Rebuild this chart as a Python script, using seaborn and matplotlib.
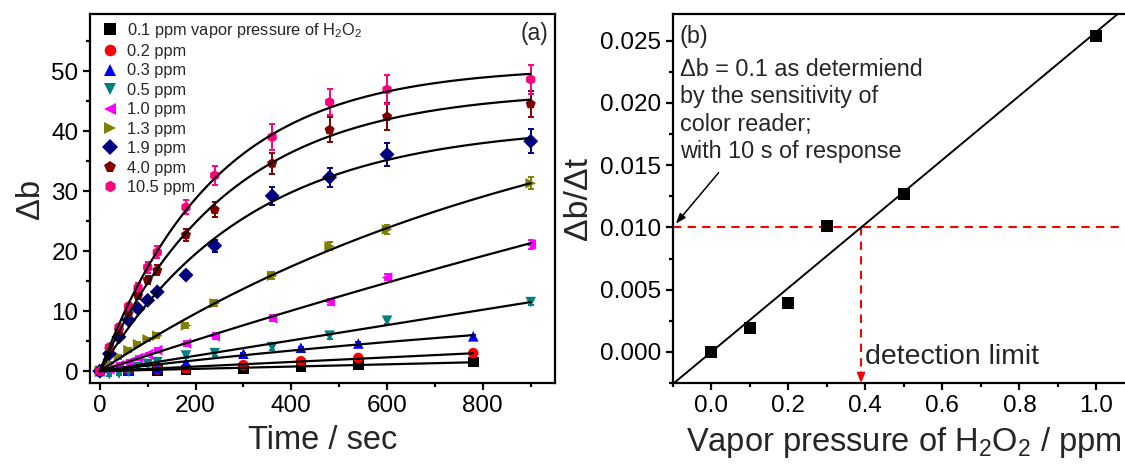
import numpy as np
import pandas as pd
import matplotlib
matplotlib.use("Agg")
import matplotlib.pyplot as plt
from matplotlib.ticker import MultipleLocator, FormatStrFormatter
import seaborn as sns

# ---------------- data: panel (a) ----------------
series = ["0.1 ppm vapor pressure of H$_2$O$_2$", "0.2 ppm", "0.3 ppm", "0.5 ppm",
          "1.0 ppm", "1.3 ppm", "1.9 ppm", "4.0 ppm", "10.5 ppm"]
colors = ["#000000", "#FF0000", "#0000FF", "#008080", "#FF00FF",
          "#808000", "#000080", "#800000", "#FF0080"]
markers = ["s", "o", "^", "v", "<", ">", "D", "p", "h"]

t_low = [0, 60, 120, 180, 300, 420, 540, 780]
t_fast = [0, 20, 40, 60, 80, 100, 120, 180, 240, 360, 480, 600, 900]

b01 = [0, 0.0, 0.1, 0.2, 0.45, 0.75, 1.1, 1.55]
b02 = [0, 0.1, 0.3, 0.45, 1.0, 1.65, 2.2, 3.0]
b03 = [0, 0.1, 0.5, 1.4, 2.9, 3.9, 4.6, 5.8]
b05 = [0, -0.5, -0.4, -0.1, 0.7, 1.2, 1.5, 2.6, 3.0, 4.0, 5.9, 8.4, 11.5]
b10 = [0, 0.3, 1.0, 1.5, 2.2, 2.8, 3.5, 4.6, 5.8, 8.8, 11.6, 15.6, 21.1]
b13 = [0, 1.3, 2.4, 3.5, 4.5, 5.3, 5.9, 7.6, 11.3, 15.9, 20.8, 23.6, 31.3]
b19 = [0, 2.9, 5.7, 8.5, 10.4, 11.8, 13.2, 16.0, 20.9, 29.2, 32.3, 36.1, 38.3]
b40 = [0, 3.7, 6.8, 9.6, 12.6, 15.2, 16.8, 22.7, 26.9, 34.6, 40.2, 42.4, 44.5]
b105 = [0, 4.0, 7.3, 10.8, 13.9, 17.3, 19.8, 27.3, 32.6, 39.0, 44.8, 46.9, 48.6]

e01 = [0, 0.1, 0.1, 0.1, 0.1, 0.1, 0.1, 0.15]
e02 = [0, 0.1, 0.1, 0.1, 0.15, 0.15, 0.2, 0.2]
e03 = [0, 0.1, 0.1, 0.15, 0.2, 0.2, 0.25, 0.3]
e05 = [0, 0.3, 0.3, 0.3, 0.3, 0.3, 0.3, 0.4, 0.4, 0.4, 0.5, 0.5, 0.5]
e10 = [0, 0.3, 0.3, 0.3, 0.3, 0.3, 0.3, 0.4, 0.5, 0.5, 0.5, 0.5, 0.8]
e13 = [0, 0.3, 0.3, 0.3, 0.3, 0.3, 0.4, 0.4, 0.5, 0.6, 0.7, 0.8, 1.0]
e19 = [0, 0.3, 0.3, 0.4, 0.4, 0.5, 0.5, 0.6, 1.0, 1.5, 1.6, 1.9, 2.0]
e40 = [0, 0.3, 0.4, 0.5, 0.6, 0.7, 0.8, 1.0, 1.3, 1.8, 2.1, 2.2, 2.2]
e105 = [0, 0.4, 0.5, 0.6, 0.8, 0.9, 1.0, 1.2, 1.6, 2.1, 2.2, 2.4, 2.4]

# ---------------- data: panel (b) ----------------
vp = [0.0, 0.1, 0.2, 0.3, 0.5, 1.0]
rate = [0.0, 0.0019, 0.0039, 0.0101, 0.0127, 0.0254]
threshold = 0.010  # delta b = 0.1 in 10 s

# ---------------- style ----------------
sns.set_theme(style="ticks")
plt.rcParams["font.family"] = ["Liberation Sans", "DejaVu Sans"]
plt.rcParams["mathtext.fontset"] = "custom"
plt.rcParams["mathtext.rm"] = "Liberation Sans"
plt.rcParams["mathtext.it"] = "Liberation Sans:italic"
plt.rcParams["mathtext.bf"] = "Liberation Sans:bold"
plt.rcParams["axes.linewidth"] = 1.6
plt.rcParams["axes.edgecolor"] = "black"
for a in ("x", "y"):
    plt.rcParams[f"{a}tick.direction"] = "out"
    plt.rcParams[f"{a}tick.major.size"] = 5
    plt.rcParams[f"{a}tick.major.width"] = 1.6
    plt.rcParams[f"{a}tick.minor.size"] = 3
    plt.rcParams[f"{a}tick.minor.width"] = 1.6
    plt.rcParams[f"{a}tick.color"] = "black"
    plt.rcParams[f"{a}tick.labelcolor"] = "black"

TICK_FS = 17.5
LABEL_FS = 23.5

fig = plt.figure(figsize=(11.25, 4.73), dpi=100)
ax1 = fig.add_axes([0.0802, 0.190, 0.4128, 0.7804])
ax2 = fig.add_axes([0.598, 0.190, 0.4109, 0.7804])

# ---------------- panel (a) ----------------
ts = [t_low, t_low, t_low] + [t_fast] * 6
bs = [b01, b02, b03, b05, b10, b13, b19, b40, b105]
es = [e01, e02, e03, e05, e10, e13, e19, e40, e105]

rows = []
for name, t, b in zip(series, ts, bs):
    for ti, bi in zip(t, b):
        rows.append({"series": name, "t": ti, "b": bi})
df = pd.DataFrame(rows)

pal = dict(zip(series, colors))
mk = dict(zip(series, markers))

for name, t, b, e in zip(series, ts, bs, es):
    ax1.errorbar(t, b, yerr=e, fmt="none", ecolor=pal[name], elinewidth=1.4,
                 capsize=2.5, capthick=1.4, zorder=2)

sns.scatterplot(data=df, x="t", y="b", hue="series", style="series",
                hue_order=series, style_order=series, palette=pal, markers=mk,
                s=58, linewidth=0, ax=ax1, zorder=3, legend=True)

# exponential-rise fits  b = A (1 - exp(-t/tau))
def fit_curve(t, b):
    t = np.asarray(t, float)
    b = np.asarray(b, float)
    best = None
    for tau in np.logspace(1.5, 6, 600):
        g = 1 - np.exp(-t / tau)
        A = (g @ b) / (g @ g)
        r = np.sum((A * g - b) ** 2)
        if best is None or r < best[0]:
            best = (r, A, tau)
    _, A, tau = best
    tt = np.linspace(0, t.max(), 200)
    return tt, A * (1 - np.exp(-tt / tau))

for t, b in zip(ts, bs):
    tt, yy = fit_curve(t, b)
    sns.lineplot(x=tt, y=yy, color="black", lw=1.6, ax=ax1, zorder=4,
                 sort=False, estimator=None)

ax1.set_xlim(-20, 950)
ax1.set_ylim(-2, 59.5)
ax1.xaxis.set_major_locator(MultipleLocator(200))
ax1.xaxis.set_minor_locator(MultipleLocator(100))
ax1.yaxis.set_major_locator(MultipleLocator(10))
ax1.yaxis.set_minor_locator(MultipleLocator(5))
ax1.tick_params(labelsize=TICK_FS)
ax1.set_xlabel("Time / sec", fontsize=LABEL_FS, labelpad=6)
ax1.set_ylabel("\u0394b", fontsize=LABEL_FS, labelpad=4)
for s in ax1.spines.values():
    s.set_visible(True)
ax1.text(0.986, 0.946, "(a)", transform=ax1.transAxes, ha="right", va="center",
         fontsize=16.5)

handles, labels = ax1.get_legend_handles_labels()
ax1.legend(handles, labels, loc="upper left", bbox_to_anchor=(0.008, 1.0),
           frameon=False, fontsize=11.8, handletextpad=0.5, labelspacing=0.27,
           borderaxespad=0.0, markerscale=1.1, handlelength=1.1)

# ---------------- panel (b) ----------------
dfb = pd.DataFrame({"vp": vp, "rate": rate})
slope, intercept = np.polyfit(vp, rate, 1)
xl = np.array([-0.1, 1.1])
sns.lineplot(x=xl, y=slope * xl + intercept, color="black", lw=1.4, ax=ax2, zorder=2)
sns.scatterplot(data=dfb, x="vp", y="rate", marker="s", color="black", s=70,
                linewidth=0, ax=ax2, zorder=3)

x_dl = (threshold - intercept) / slope
ax2.axhline(threshold, color="red", lw=1.5, ls=(0, (4, 3)), zorder=1)
ax2.plot([x_dl, x_dl], [threshold, -0.0019], color="red", lw=1.5,
         ls=(0, (4, 3)), zorder=1)
ax2.annotate("", xy=(x_dl, -0.0025), xytext=(x_dl, -0.0016),
             arrowprops=dict(arrowstyle="-|>,head_length=0.5,head_width=0.2",
                             color="red", lw=1.2, shrinkA=0, shrinkB=0))
ax2.text(0.40, -0.0004, "detection limit", fontsize=20.5, ha="left",
         va="center")

ax2.annotate("", xy=(-0.092, 0.0103), xytext=(0.019, 0.0144),
             arrowprops=dict(arrowstyle="-|>,head_length=0.5,head_width=0.18",
                             color="black", lw=1.1, shrinkA=0, shrinkB=0))
ax2.text(-0.082, 0.0253, "(b)", fontsize=16.8, ha="left", va="center")
ax2.text(-0.082, 0.0236,
         "\u0394b = 0.1 as determiend\nby the sensitivity of\ncolor reader;\nwith 10 s of response",
         fontsize=16.8, ha="left", va="top", linespacing=1.24)

ax2.set_xlim(-0.1, 1.1)
ax2.set_ylim(-0.0025, 0.02714)
ax2.xaxis.set_major_locator(MultipleLocator(0.2))
ax2.xaxis.set_minor_locator(MultipleLocator(0.1))
ax2.yaxis.set_major_locator(MultipleLocator(0.005))
ax2.yaxis.set_minor_locator(MultipleLocator(0.0025))
ax2.xaxis.set_major_formatter(FormatStrFormatter("%.1f"))
ax2.yaxis.set_major_formatter(FormatStrFormatter("%.3f"))
ax2.tick_params(labelsize=TICK_FS)
ax2.set_xlabel("Vapor pressure of H$_2$O$_2$ / ppm", fontsize=LABEL_FS, labelpad=6)
ax2.set_ylabel("\u0394b/\u0394t", fontsize=LABEL_FS + 1, labelpad=4)
for s in ax2.spines.values():
    s.set_visible(True)

fig.savefig("out.png", dpi=100)
